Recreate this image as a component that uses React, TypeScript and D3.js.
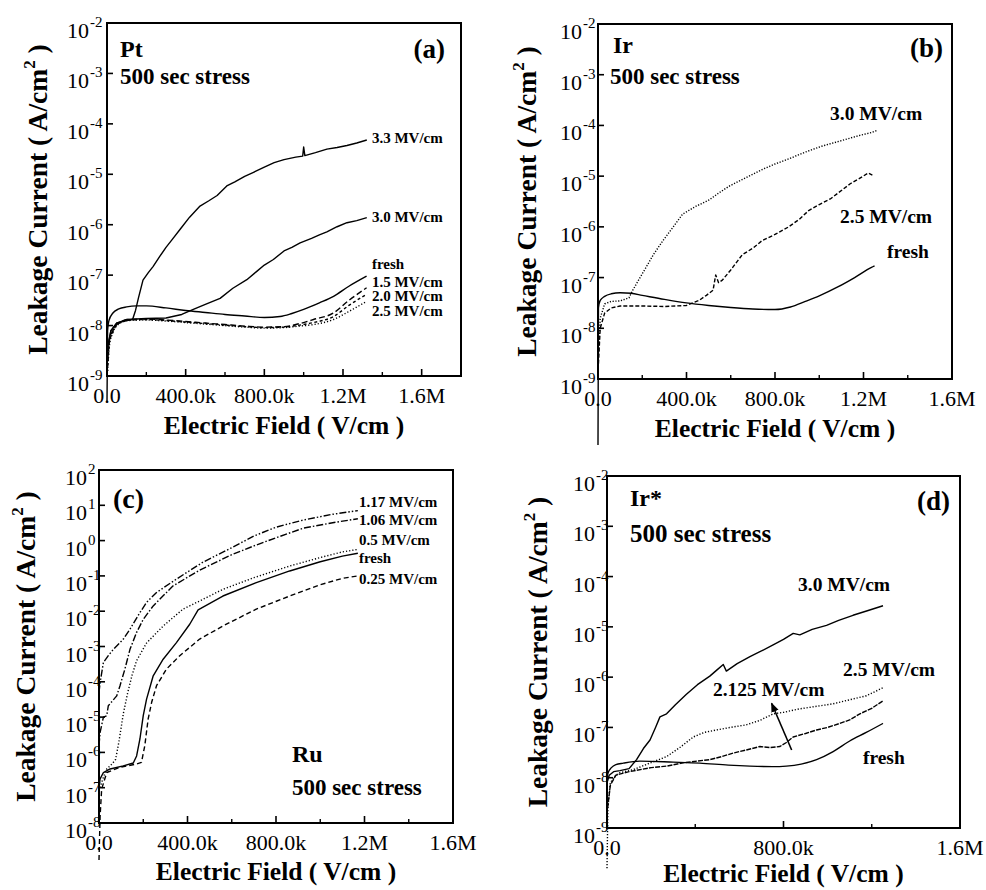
import React from 'react';
import * as d3 from 'd3';

// every point: [electric field in kV/cm, log10 of leakage current in A/cm^2]
type Pt = [number, number];

// ---- (a) Pt
const ptFresh: Pt[] = [[0, -9.5], [3, -8.1], [10, -7.9], [30, -7.75], [60, -7.67], [100, -7.63], [150, -7.61], [200, -7.61], [300, -7.65], [400, -7.7], [500, -7.74], [600, -7.78], [700, -7.81], [800, -7.84], [880, -7.82], [940, -7.76], [1000, -7.68], [1080, -7.55], [1152, -7.42], [1230, -7.22], [1320, -7.02]];
const pt15: Pt[] = [[4, -8.7], [12, -8.3], [30, -8.1], [60, -7.95], [110, -7.88], [200, -7.87], [300, -7.89], [400, -7.92], [500, -7.95], [600, -7.98], [700, -8.01], [800, -8.03], [900, -8.02], [980, -7.96], [1050, -7.88], [1152, -7.75], [1230, -7.5], [1320, -7.25]];
const pt20: Pt[] = [[4, -8.8], [12, -8.35], [30, -8.12], [60, -7.96], [110, -7.89], [200, -7.88], [300, -7.9], [400, -7.93], [500, -7.96], [600, -7.99], [700, -8.02], [800, -8.04], [900, -8.03], [980, -7.99], [1050, -7.94], [1152, -7.82], [1230, -7.6], [1320, -7.38]];
const pt25: Pt[] = [[4, -8.9], [12, -8.4], [30, -8.14], [60, -7.97], [110, -7.9], [200, -7.89], [300, -7.91], [400, -7.94], [500, -7.97], [600, -8.0], [700, -8.03], [800, -8.05], [900, -8.04], [980, -8.01], [1050, -7.98], [1152, -7.88], [1230, -7.72], [1320, -7.52]];
const pt30: Pt[] = [[5, -8.4], [20, -8.1], [50, -7.95], [100, -7.88], [200, -7.86], [300, -7.85], [380, -7.78], [439, -7.68], [500, -7.58], [575, -7.46], [640, -7.26], [711, -7.09], [760, -6.93], [800, -6.8], [846, -6.69], [900, -6.52], [940, -6.45], [982, -6.36], [1040, -6.27], [1080, -6.2], [1118, -6.14], [1170, -6.04], [1220, -5.96], [1270, -5.92], [1321, -5.86]];
const pt33: Pt[] = [[5, -8.4], [20, -8.1], [50, -7.95], [100, -7.9], [130, -7.88], [145, -7.7], [160, -7.45], [183, -7.1], [210, -6.95], [234, -6.83], [270, -6.62], [300, -6.45], [330, -6.3], [372, -6.09], [420, -5.85], [473, -5.63], [520, -5.52], [560, -5.42], [609, -5.23], [650, -5.15], [700, -5.04], [745, -4.96], [800, -4.86], [850, -4.77], [900, -4.71], [960, -4.66], [995, -4.64], [1000, -4.46], [1006, -4.63], [1060, -4.57], [1118, -4.5], [1170, -4.47], [1220, -4.43], [1270, -4.38], [1321, -4.32]];

// ---- (b) Ir
const irFresh: Pt[] = [[0, -10.3], [2, -7.6], [10, -7.45], [30, -7.37], [60, -7.32], [100, -7.3], [150, -7.31], [200, -7.35], [300, -7.43], [400, -7.5], [500, -7.55], [600, -7.59], [700, -7.62], [800, -7.63], [870, -7.58], [937, -7.47], [1000, -7.36], [1086, -7.18], [1160, -7.0], [1236, -6.8], [1250, -6.77]];
const ir25: Pt[] = [[2, -8.7], [10, -8.0], [30, -7.7], [60, -7.6], [100, -7.56], [200, -7.56], [300, -7.57], [400, -7.55], [457, -7.45], [490, -7.35], [520, -7.25], [532, -6.95], [545, -7.1], [562, -7.05], [600, -6.85], [652, -6.55], [700, -6.42], [742, -6.27], [800, -6.15], [862, -6.0], [910, -5.85], [952, -5.68], [1000, -5.56], [1050, -5.45], [1086, -5.33], [1140, -5.15], [1180, -5.05], [1221, -4.94], [1240, -4.98]];
const ir30: Pt[] = [[2, -8.5], [10, -7.8], [30, -7.52], [60, -7.47], [100, -7.46], [140, -7.4], [157, -7.25], [190, -7.0], [217, -6.8], [250, -6.55], [292, -6.28], [340, -6.0], [382, -5.75], [440, -5.6], [502, -5.47], [550, -5.32], [592, -5.2], [660, -5.05], [742, -4.87], [800, -4.76], [862, -4.66], [940, -4.52], [1011, -4.41], [1100, -4.3], [1180, -4.2], [1236, -4.14], [1260, -4.1]];

// ---- (c) Ru
const ruFresh: Pt[] = [[0, -7.0], [5, -6.75], [20, -6.57], [50, -6.47], [110, -6.38], [155, -6.3], [170, -6.1], [185, -5.62], [200, -4.96], [215, -4.49], [245, -3.83], [290, -3.36], [350, -2.89], [410, -2.37], [448, -1.96], [560, -1.57], [711, -1.19], [862, -0.86], [1000, -0.6], [1100, -0.44], [1170, -0.36]];
const ru025: Pt[] = [[0, -9.05], [5, -7.8], [12, -7.04], [35, -6.57], [95, -6.42], [170, -6.33], [192, -6.28], [207, -5.81], [222, -5.06], [238, -4.58], [260, -4.11], [305, -3.64], [365, -3.26], [455, -2.79], [560, -2.42], [711, -1.94], [862, -1.57], [1000, -1.25], [1100, -1.07], [1170, -1.0]];
const ru05: Pt[] = [[5, -7.0], [20, -6.7], [35, -6.47], [60, -6.32], [75, -6.2], [90, -5.7], [110, -4.9], [130, -4.3], [150, -3.8], [170, -3.4], [215, -2.9], [290, -2.42], [380, -1.94], [455, -1.71], [560, -1.38], [700, -1.05], [862, -0.72], [1000, -0.48], [1100, -0.32], [1170, -0.25]];
const ru106: Pt[] = [[0, -5.8], [5, -5.43], [20, -5.0], [35, -4.96], [42, -4.68], [80, -4.4], [95, -4.11], [117, -3.64], [140, -3.08], [170, -2.6], [200, -2.23], [245, -1.85], [335, -1.28], [460, -0.82], [600, -0.4], [700, -0.15], [800, 0.08], [922, 0.35], [1050, 0.5], [1170, 0.62]];
const ru117: Pt[] = [[0, -4.3], [5, -4.02], [20, -3.45], [42, -3.26], [65, -3.08], [110, -2.79], [140, -2.51], [185, -2.04], [215, -1.75], [260, -1.47], [350, -1.09], [470, -0.61], [600, -0.2], [700, 0.13], [800, 0.38], [922, 0.58], [1050, 0.74], [1170, 0.85]];

// ---- (d) Ir*
const irsFresh: Pt[] = [[0, -8.0], [5, -7.9], [20, -7.8], [40, -7.74], [74, -7.71], [149, -7.67], [300, -7.69], [421, -7.71], [550, -7.75], [648, -7.77], [750, -7.78], [813, -7.77], [880, -7.73], [950, -7.64], [1025, -7.48], [1100, -7.27], [1175, -7.1], [1251, -6.92]];
const irs30: Pt[] = [[0, -8.1], [10, -7.95], [30, -7.88], [59, -7.86], [100, -7.82], [134, -7.64], [165, -7.42], [195, -7.25], [220, -7.0], [240, -6.79], [270, -6.73], [310, -6.55], [360, -6.34], [410, -6.15], [466, -5.98], [500, -5.85], [527, -5.75], [541, -5.88], [590, -5.73], [648, -5.59], [700, -5.48], [753, -5.36], [800, -5.25], [844, -5.13], [874, -5.16], [930, -5.05], [995, -4.97], [1050, -4.87], [1115, -4.77], [1180, -4.68], [1251, -4.58]];
const irs25: Pt[] = [[0, -9.8], [4, -8.6], [15, -8.1], [40, -7.95], [59, -7.9], [119, -7.84], [200, -7.7], [270, -7.58], [330, -7.4], [391, -7.19], [440, -7.1], [497, -7.05], [572, -6.99], [630, -6.95], [693, -6.86], [753, -6.73], [800, -6.7], [874, -6.63], [950, -6.58], [1025, -6.53], [1100, -6.45], [1176, -6.37], [1251, -6.21]];
const irs2125: Pt[] = [[3, -8.6], [15, -8.15], [40, -7.95], [100, -7.88], [200, -7.8], [270, -7.77], [350, -7.7], [466, -7.64], [520, -7.58], [572, -7.51], [630, -7.45], [693, -7.38], [740, -7.4], [783, -7.38], [813, -7.3], [844, -7.19], [900, -7.12], [950, -7.05], [1000, -7.0], [1055, -6.92], [1100, -6.85], [1146, -6.73], [1200, -6.62], [1251, -6.47]];
const irsArrow: Pt[] = [[837, -7.45], [746, -6.52]];

// axis ticks (kV/cm)
const ticks400 = [0, 400, 800, 1200, 1600];
const labels400 = ['0.0', '400.0k', '800.0k', '1.2M', '1.6M'];
const minor200 = [200, 600, 1000, 1400];
const ticks800 = [0, 800, 1600];
const labels800 = ['0.0', '800.0k', '1.6M'];
const minor800 = [400, 1200];

const FONT = '"Liberation Serif", "Times New Roman", Times, serif';

interface Series { data: Pt[]; dash?: string; smooth?: boolean }
interface Note { text: string; at: Pt; size: number; end?: boolean }
interface PanelCfg {
  left: number; top: number; width: number; height: number;
  xMax: number; yMin: number; yMax: number;
  xTicks: number[]; xLabels: string[]; xMinor: number[];
  gap: number; yTitleX: number; xTitleDy: number;
  series: Series[]; notes: Note[]; arrow?: Pt[];
}

const panels: PanelCfg[] = [
  {
    left: 107, top: 23, width: 354, height: 353, xMax: 1800, yMin: -9, yMax: -2,
    xTicks: ticks400, xLabels: labels400, xMinor: minor200, gap: 18, yTitleX: 47, xTitleDy: 58,
    series: [
      { data: ptFresh, smooth: true },
      { data: pt15, dash: '6,3', smooth: true },
      { data: pt20, dash: '3,2.5', smooth: true },
      { data: pt25, dash: '1.2,2', smooth: true },
      { data: pt30 },
      { data: pt33 },
    ],
    notes: [
      { text: 'Pt', at: [66, -2.67], size: 24 },
      { text: '500 sec stress', at: [66, -3.21], size: 23 },
      { text: '(a)', at: [1719, -2.69], size: 27, end: true },
      { text: '3.3 MV/cm', at: [1347, -4.38], size: 15 },
      { text: '3.0 MV/cm', at: [1347, -5.95], size: 15 },
      { text: 'fresh', at: [1347, -6.88], size: 15 },
      { text: '1.5 MV/cm', at: [1347, -7.24], size: 15 },
      { text: '2.0 MV/cm', at: [1347, -7.52], size: 15 },
      { text: '2.5 MV/cm', at: [1347, -7.82], size: 15 },
    ],
  },
  {
    left: 598, top: 24, width: 354, height: 355, xMax: 1600, yMin: -9, yMax: -2,
    xTicks: ticks400, xLabels: labels400, xMinor: minor200, gap: 16, yTitleX: 536, xTitleDy: 58,
    series: [
      { data: irFresh, smooth: true },
      { data: ir25, dash: '4,2' },
      { data: ir30, dash: '1.2,1.6' },
    ],
    notes: [
      { text: 'Ir', at: [68, -2.57], size: 24 },
      { text: '500 sec stress', at: [54, -3.18], size: 23 },
      { text: '(b)', at: [1559, -2.65], size: 27, end: true },
      { text: '3.0 MV/cm', at: [1049, -3.89], size: 19.5 },
      { text: '2.5 MV/cm', at: [1094, -5.92], size: 19.5 },
      { text: 'fresh', at: [1306, -6.61], size: 19.5 },
    ],
  },
  {
    left: 99, top: 470, width: 354, height: 353, xMax: 1600, yMin: -8, yMax: 2,
    xTicks: ticks400, xLabels: labels400, xMinor: minor200, gap: 12, yTitleX: 35, xTitleDy: 57,
    series: [
      { data: ruFresh },
      { data: ru025, dash: '5,3' },
      { data: ru05, dash: '1.2,2' },
      { data: ru106, dash: '7,2,1.5,2' },
      { data: ru117, dash: '7,2,1.5,2,1.5,2' },
    ],
    notes: [
      { text: '(c)', at: [63, 0.92], size: 28 },
      { text: 'Ru', at: [872, -6.27], size: 24 },
      { text: '500 sec stress', at: [872, -7.21], size: 23 },
      { text: '1.17 MV/cm', at: [1175, 0.95], size: 15 },
      { text: '1.06 MV/cm', at: [1175, 0.44], size: 15 },
      { text: '0.5 MV/cm', at: [1175, -0.12], size: 15 },
      { text: 'fresh', at: [1175, -0.63], size: 15 },
      { text: '0.25 MV/cm', at: [1175, -1.23], size: 15 },
    ],
  },
  {
    left: 607, top: 476, width: 353, height: 352, xMax: 1600, yMin: -9, yMax: -2,
    xTicks: ticks800, xLabels: labels800, xMinor: minor800, gap: 12, yTitleX: 547, xTitleDy: 54,
    series: [
      { data: irsFresh, smooth: true },
      { data: irs30 },
      { data: irs25, dash: '1.2,1.8' },
      { data: irs2125, dash: '5,1.2' },
    ],
    notes: [
      { text: 'Ir*', at: [104, -2.6], size: 24 },
      { text: '500 sec stress', at: [104, -3.31], size: 25 },
      { text: '(d)', at: [1555, -2.68], size: 27, end: true },
      { text: '3.0 MV/cm', at: [866, -4.29], size: 19.5 },
      { text: '2.5 MV/cm', at: [1070, -5.98], size: 19.5 },
      { text: '2.125 MV/cm', at: [480, -6.37], size: 19.5 },
      { text: 'fresh', at: [1160, -7.73], size: 19.5 },
    ],
    arrow: irsArrow,
  },
];

function Panel({ cfg, idx }: { cfg: PanelCfg; idx: number }) {
  const { left, top, width, height } = cfg;
  const right = left + width;
  const bottom = top + height;
  const x = d3.scaleLinear().domain([0, cfg.xMax]).range([left, right]);
  const y = d3.scaleLog().domain([10 ** cfg.yMin, 10 ** cfg.yMax]).range([bottom, top]);
  const decades = d3.range(cfg.yMin, cfg.yMax + 1);

  const line = d3.line<Pt>().x(d => x(d[0])).y(d => y(10 ** d[1]));
  const smoothLine = d3.line<Pt>().x(d => x(d[0])).y(d => y(10 ** d[1])).curve(d3.curveMonotoneX);

  const midY = (top + bottom) / 2;
  const midX = (left + right) / 2;

  return (
    <g>
      {cfg.series.map((s, i) => (
        <path key={i} d={(s.smooth ? smoothLine : line)(s.data) || ''} fill="none" stroke="#000"
          strokeWidth={1.4} strokeDasharray={s.dash} strokeLinejoin="round" />
      ))}
      {cfg.arrow && (
        <line x1={x(cfg.arrow[0][0])} y1={y(10 ** cfg.arrow[0][1])} x2={x(cfg.arrow[1][0])}
          y2={y(10 ** cfg.arrow[1][1])} stroke="#000" strokeWidth={1.6} markerEnd={`url(#arrow${idx})`} />
      )}
      <defs>
        <marker id={`arrow${idx}`} viewBox="0 0 10 10" refX="9" refY="5" markerWidth="6" markerHeight="8" orient="auto">
          <path d="M0,1 L10,5 L0,9 Z" fill="#000" />
        </marker>
      </defs>
      <rect x={left} y={top} width={width} height={height} fill="none" stroke="#000" strokeWidth={2} />
      {cfg.xTicks.map((t, i) => (
        <g key={'xt' + t}>
          <line x1={x(t)} x2={x(t)} y1={bottom} y2={bottom - 7} stroke="#000" strokeWidth={1.6} />
          <text x={x(t)} y={bottom + 27} fontSize={22} textAnchor="middle" fontFamily={FONT}>{cfg.xLabels[i]}</text>
        </g>
      ))}
      {cfg.xMinor.map(t => (
        <line key={'xm' + t} x1={x(t)} x2={x(t)} y1={bottom} y2={bottom - 4} stroke="#000" strokeWidth={1.4} />
      ))}
      {decades.map(e => (
        <g key={'yt' + e}>
          <line x1={left} x2={left + 6} y1={y(10 ** e)} y2={y(10 ** e)} stroke="#000" strokeWidth={1.6} />
          <text x={left - cfg.gap} y={y(10 ** e) + 15} fontSize={22} textAnchor="end" fontFamily={FONT}>10</text>
          <text x={left - cfg.gap + 1} y={y(10 ** e) + 4} fontSize={15} fontFamily={FONT}>{e}</text>
        </g>
      ))}
      {cfg.notes.map((n, i) => (
        <text key={'n' + i} x={x(n.at[0])} y={y(10 ** n.at[1])} fontSize={n.size} fontWeight="bold"
          textAnchor={n.end ? 'end' : 'start'} fontFamily={FONT}>{n.text}</text>
      ))}
      <text x={midX} y={bottom + cfg.xTitleDy} fontSize={25.5} fontWeight="bold" textAnchor="middle" fontFamily={FONT}>
        Electric Field ( V/cm )
      </text>
      <text transform={`translate(${cfg.yTitleX},${midY}) rotate(-90)`} fontSize={27.5} fontWeight="bold"
        textAnchor="middle" fontFamily={FONT}>
        Leakage Current ( A/cm<tspan fontSize={17} dy={-12}>2</tspan><tspan dy={12}> )</tspan>
      </text>
    </g>
  );
}

export default function App() {
  return (
    <svg width={986} height={890} style={{ position: 'absolute', left: 0, top: 0, background: '#fff' }}>
      <rect width={986} height={890} fill="#fff" />
      {panels.map((p, i) => <Panel key={i} cfg={p} idx={i} />)}
    </svg>
  );
}
